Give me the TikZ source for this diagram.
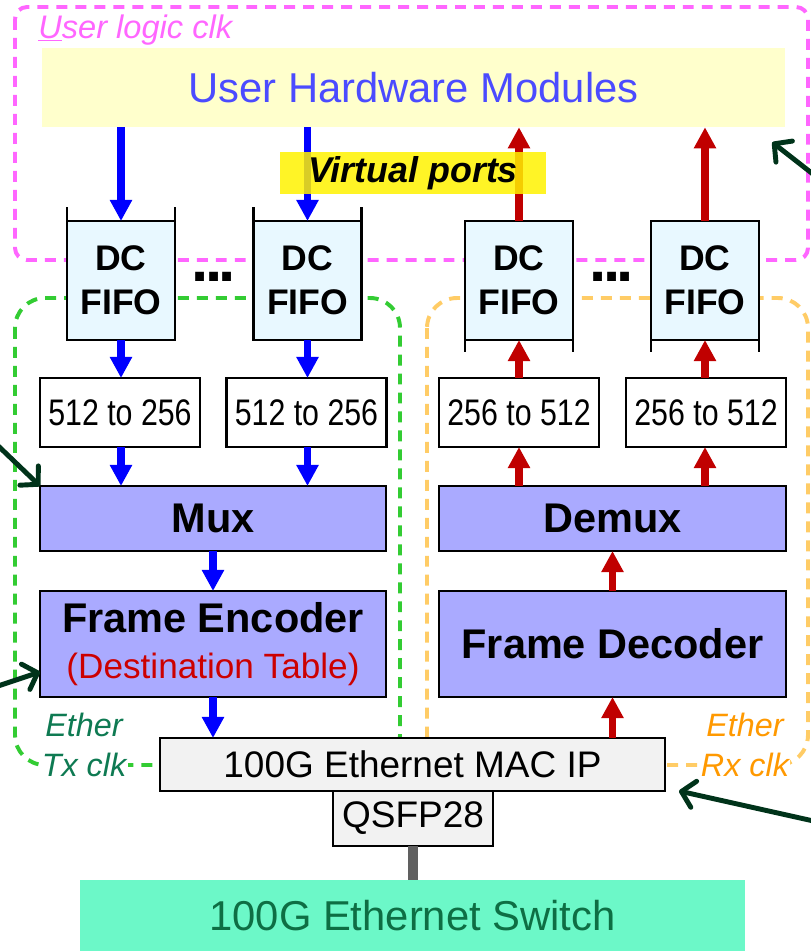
\documentclass[tikz,border=0pt]{standalone}
\usepackage{fontspec}
\setmainfont{Liberation Sans}
\newfontfamily\narrowsf[FakeStretch=0.82]{Liberation Sans}
\usepackage{xcolor}
\usetikzlibrary{arrows.meta,positioning}

\definecolor{clkpink}{RGB}{255,102,255}
\definecolor{txdash}{RGB}{51,204,51}
\definecolor{rxdash}{RGB}{255,204,102}
\definecolor{txlabel}{RGB}{14,122,82}
\definecolor{rxlabel}{RGB}{255,153,0}
\definecolor{userfill}{RGB}{255,255,204}
\definecolor{usertext}{RGB}{75,75,255}
\definecolor{fifofill}{RGB}{232,248,255}
\definecolor{blocklav}{RGB}{170,170,255}
\definecolor{txblue}{RGB}{0,0,255}
\definecolor{rxred}{RGB}{192,0,0}
\definecolor{destred}{RGB}{204,0,0}
\definecolor{notegreen}{RGB}{0,51,26}
\definecolor{macgray}{RGB}{242,242,242}
\definecolor{switchfill}{RGB}{108,248,200}
\definecolor{switchtext}{RGB}{14,110,68}
\definecolor{cablegray}{RGB}{96,96,96}

\tikzset{
    fifo/.style={draw, line width=2pt, fill=fifofill, outer sep=0pt,
        minimum width=2.7cm, minimum height=2.975cm, inner sep=0pt,
        align=center, font=\fontsize{25.3}{31.3}\selectfont\bfseries},
    conv/.style={draw, line width=2pt, fill=white, outer sep=0pt,
        minimum width=4cm, minimum height=1.725cm, inner sep=0pt,
        font=\fontsize{26.3}{30}\selectfont\narrowsf},
    block/.style={draw, line width=2pt, fill=blocklav, outer sep=0pt,
        minimum width=8.65cm, inner sep=0pt, align=center,
        font=\fontsize{29.5}{32.7}\selectfont\bfseries},
    txarrow/.style={draw=txblue, line width=5pt, -{Triangle[width=15pt,length=15pt]}},
    rxarrow/.style={draw=rxred, line width=5pt, -{Triangle[width=15pt,length=15pt]}},
    note/.style={draw=notegreen, line width=3.5pt, line cap=round,
        -{Straight Barb[length=9pt,width=19pt,round]}},
    clkbox/.style={line width=2.8pt, dash pattern=on 7.8pt off 5.7pt},
    moredots/.style={inner sep=0pt, font=\fontsize{44}{44}\selectfont\bfseries}
}

\begin{document}
\begin{tikzpicture}

\useasboundingbox (0,0) rectangle (20.25,-23.775);

% clock domains
\draw[clkbox, draw=clkpink, rounded corners=0.3cm] (0.375,-0.175) rectangle (20.2,-6.5);
\draw[clkbox, draw=txdash, rounded corners=0.75cm] (0.375,-7.45) rectangle (10.0,-19.125);
\draw[clkbox, draw=rxdash, rounded corners=0.75cm] (10.675,-7.45) rectangle (20.2,-19.125);

\node[anchor=west, inner sep=0pt, text=clkpink,
    font=\fontsize{23.2}{26}\selectfont\itshape] (userclk) at (0.95,-0.75)
{\underline{U}ser logic clk};

\node[fill=userfill, minimum width=18.575cm, minimum height=1.975cm,
    text=usertext, font=\fontsize{29.7}{34}\selectfont] (uhm) at (10.3375,-2.1875)
{User Hardware Modules};

% dual clock fifos
\node[fifo] (fifoA) at (3.025,-7.0125) {DC\\FIFO};
\node[fifo] (fifoB) at (7.6875,-7.0125) {DC\\FIFO};
\node[fifo] (fifoC) at (12.975,-7.0125) {DC\\FIFO};
\node[fifo] (fifoD) at (17.625,-7.0125) {DC\\FIFO};

\foreach \f in {fifoA,fifoB}
    \draw[line width=2pt] (\f.north west) -- ++(0,0.35) (\f.north east) -- ++(0,0.35);
\foreach \f in {fifoC,fifoD}
    \draw[line width=2pt] (\f.south west) -- ++(0,-0.3) (\f.south east) -- ++(0,-0.3);

\node[moredots] (dotsTx) at (5.34,-6.925) {.\kern-2.6pt.\kern-2.6pt.};
\node[moredots] (dotsRx) at (15.3,-6.925) {.\kern-2.6pt.\kern-2.6pt.};

% width converters
\node[conv] (convA) at (3.0,-10.3125) {512 to 256};
\node[conv] (convB) at (7.6625,-10.3125) {512 to 256};
\node[conv] (convC) at (12.975,-10.3125) {256 to 512};
\node[conv] (convD) at (17.65,-10.3125) {256 to 512};

\node[block, minimum height=1.625cm] (mux) at (5.325,-12.9625) {Mux};
\node[block, minimum height=1.625cm, minimum width=8.675cm] (demux) at (15.3125,-12.9625) {Demux};

\node[block, minimum height=2.65cm] (enc) at (5.325,-16.1)
{Frame Encoder\\{\color{destred}\mdseries\fontsize{25}{30}\selectfont(Destination Table)}};
\node[block, minimum height=2.65cm, minimum width=8.675cm] (dec) at (15.3125,-16.1)
{Frame Decoder};

\node[fill=white, inner sep=1pt, align=center, text=txlabel,
    font=\fontsize{23}{28.5}\selectfont\itshape] (txclk) at (2.1,-18.625)
{Ether\\Tx clk};
\node[fill=white, inner sep=1pt, align=center, text=rxlabel,
    font=\fontsize{23}{28.5}\selectfont\itshape] (rxclk) at (18.625,-18.625)
{Ether\\Rx clk};

\node[draw, line width=2pt, fill=macgray, outer sep=0pt,
    minimum width=12.625cm, minimum height=1.325cm,
    font=\fontsize{26.3}{30}\selectfont] (mac) at (10.3125,-19.1125)
{100G Ethernet MAC IP};
\node[draw, line width=2pt, fill=macgray, outer sep=0pt,
    minimum width=4cm, minimum height=1.375cm,
    font=\fontsize{26.3}{30}\selectfont] (qsfp) at (10.325,-20.4625)
{QSFP28};
\node[fill=switchfill, minimum width=16.625cm, minimum height=1.775cm,
    text=switchtext, font=\fontsize{29.7}{34}\selectfont] (switch) at (10.3125,-22.8875)
{100G Ethernet Switch};

\draw[draw=cablegray, line width=7pt] (qsfp.south) -- (switch.north -| qsfp.south);

% transmit path
\foreach \f/\c in {fifoA/convA,fifoB/convB} {
    \draw[txarrow] (uhm.south -| \f) -- (\f.north);
    \draw[txarrow] (\f.south) -- (\f |- \c.north);
    \draw[txarrow] (\c.south -| \f) -- (\f |- mux.north);
}
\draw[txarrow] (mux.south) -- (enc.north);
\draw[txarrow] (enc.south) -- (enc.south |- mac.north);

% receive path
\draw[rxarrow] (mac.north -| dec) -- (dec.south);
\draw[rxarrow] (dec.north) -- (demux.south);
\foreach \f/\c in {fifoC/convC,fifoD/convD} {
    \draw[rxarrow] (demux.north -| \f) -- (\f |- \c.south);
    \draw[rxarrow] (\f |- \c.north) -- (\f.south);
    \draw[rxarrow] (\f.north) -- (\f |- uhm.south);
}

\node[fill=yellow, fill opacity=0.85, text opacity=1,
    minimum width=6.65cm, minimum height=1cm,
    font=\fontsize{25.5}{30}\selectfont\bfseries\itshape] (vports) at (10.325,-4.325)
{Virtual ports};

% pointers from outside
\coordinate (noteA) at (-0.2,-11.0);
\coordinate (noteB) at (-0.2,-17.2);
\coordinate (noteC) at (20.45,-4.45);
\coordinate (noteD) at (20.45,-20.55);
\draw[note] (noteA) -- (mux.north west);
\draw[note] (noteB) -- ([yshift=-0.7cm]enc.west);
\draw[note] (noteC) -- ([shift={(-0.325,-0.375)}]uhm.south east);
\draw[note] (noteD) -- ([xshift=0.35cm]mac.south east);

\end{tikzpicture}
\end{document}
